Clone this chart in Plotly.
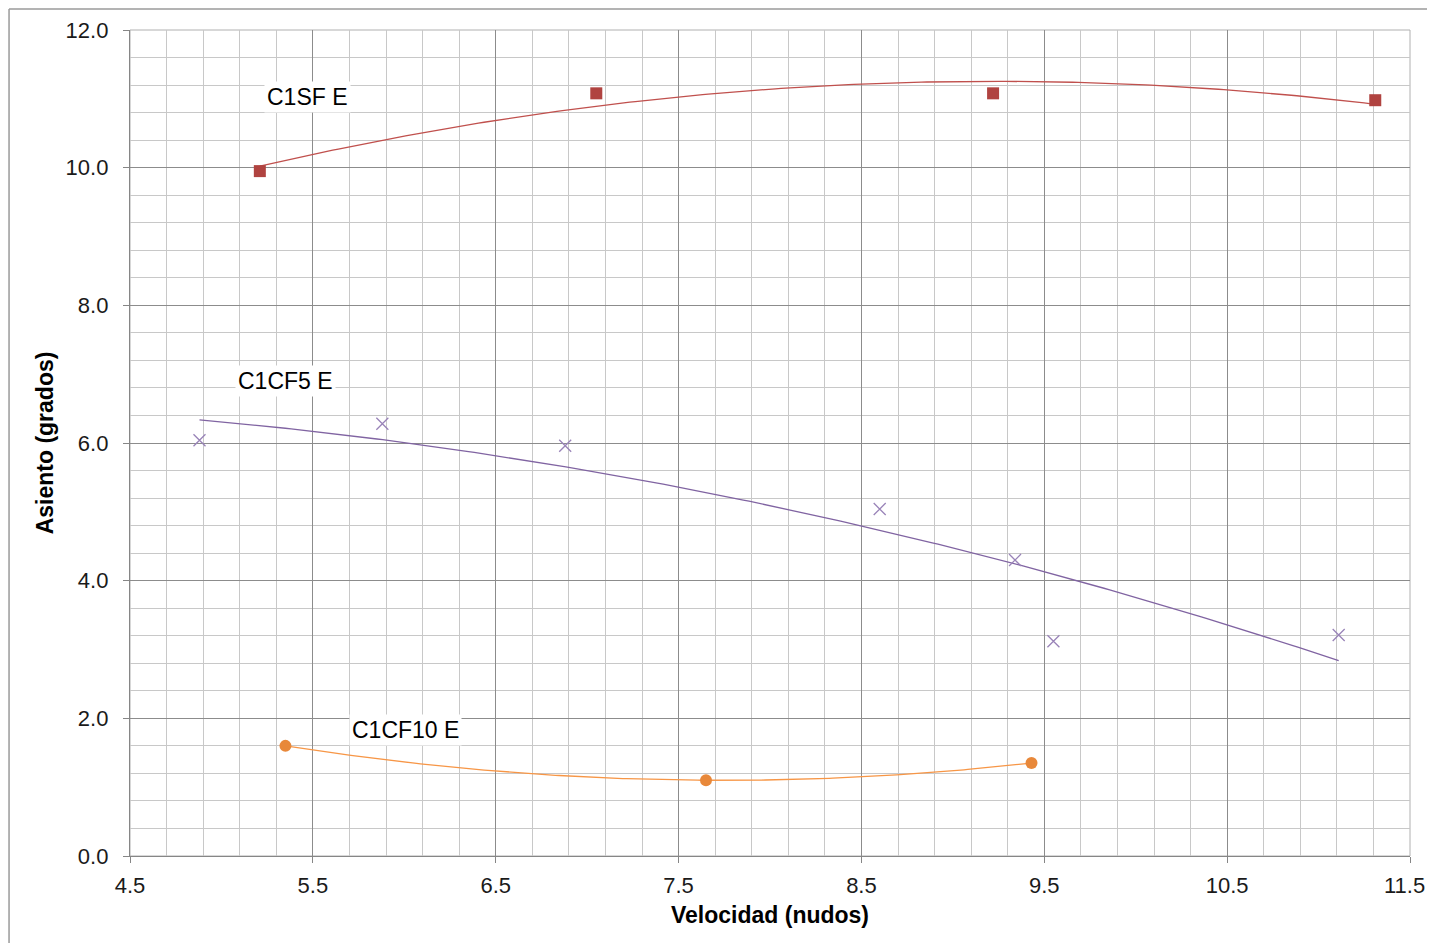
import numpy as np
import plotly.graph_objects as go

# Data
sf_x = [5.21, 7.05, 9.22, 11.31]
sf_y = [9.95, 11.08, 11.08, 10.98]

cf5_x = [4.88, 5.88, 6.88, 8.60, 9.34, 9.55, 11.11]
cf5_y = [6.04, 6.28, 5.96, 5.04, 4.30, 3.12, 3.21]

cf10_x = [5.35, 7.65, 9.43]
cf10_y = [1.60, 1.10, 1.35]

x_ticks = [4.5, 5.5, 6.5, 7.5, 8.5, 9.5, 10.5, 11.5]
y_ticks = [0.0, 2.0, 4.0, 6.0, 8.0, 10.0, 12.0]

series = [
    ("C1SF E", sf_x, sf_y, "#C0504D", dict(symbol="square", size=12, color="#B04340")),
    ("C1CF5 E", cf5_x, cf5_y, "#8064A2", dict(symbol="x-thin", size=12, line=dict(color="#9983B8", width=1.3))),
    ("C1CF10 E", cf10_x, cf10_y, "#F79646", dict(symbol="circle", size=12, color="#E8883A")),
]

FONT = "Arial, Liberation Sans, sans-serif"

fig = go.Figure()
for name, xs, ys, lc, mk in series:
    coef = np.polyfit(xs, ys, 2)
    tx = np.linspace(min(xs), max(xs), 200)
    fig.add_trace(go.Scatter(x=tx, y=np.polyval(coef, tx), mode="lines",
                             line=dict(color=lc, width=1.3), showlegend=False,
                             hoverinfo="skip"))
    fig.add_trace(go.Scatter(x=xs, y=ys, mode="markers", marker=mk, name=name,
                             showlegend=False))

labels = [("C1SF E", 5.468, 11.03), ("C1CF5 E", 5.353, 6.90), ("C1CF10 E", 6.004, 1.83)]
for txt, lx, ly in labels:
    fig.add_annotation(x=lx, y=ly, text=txt, showarrow=False, bgcolor="white",
                       font=dict(family=FONT, size=23, color="#000"),
                       borderpad=2)

# last x tick label drawn as an annotation so it stays inside the page
x_ticktext = [f"{v:.1f}" for v in x_ticks]
last_label = x_ticktext[-1]
x_ticktext[-1] = ""
fig.add_annotation(xref="paper", yref="paper", x=1 + 17 / 1280, y=0, xanchor="right",
                   yanchor="middle", yshift=-29, text=last_label, showarrow=False,
                   font=dict(family=FONT, size=22, color="#1a1a1a"))

axis_common = dict(
    showline=True, linecolor="#868686", linewidth=1.3,
    ticks="outside", ticklen=6, tickcolor="#868686",
    gridcolor="#8c8c8c", gridwidth=1, zeroline=False,
    ticklabeloverflow="allow", automargin=False,
    tickfont=dict(family=FONT, size=22, color="#1a1a1a"),
)

fig.update_layout(
    width=1419, height=935,
    margin=dict(l=122, r=17, t=22, b=87),
    plot_bgcolor="white", paper_bgcolor="white",
    xaxis=dict(range=[4.5, 11.5], tickvals=x_ticks, ticktext=x_ticktext,
               minor=dict(dtick=0.2, tick0=4.5, showgrid=True, gridcolor="#c8c8c8", gridwidth=1),
               ticklabelstandoff=3,
               title=dict(text="<b>Velocidad (nudos)</b>", standoff=10,
                          font=dict(family=FONT, size=23, color="#000")),
               **axis_common),
    yaxis=dict(range=[0, 12], tickvals=y_ticks, ticktext=[f"{v:.1f}" for v in y_ticks],
               minor=dict(dtick=0.4, tick0=0, showgrid=True, gridcolor="#c8c8c8", gridwidth=1),
               ticklabelstandoff=10,
               title=dict(text="<b>Asiento (grados)</b>", standoff=5,
                          font=dict(family=FONT, size=23, color="#000")),
               **axis_common),
    shapes=[
        dict(type="rect", xref="paper", yref="paper", x0=0, x1=1, y0=0, y1=1,
             line=dict(color="#b0b0b0", width=1), layer="below"),
        dict(type="line", xref="paper", yref="paper", x0=-0.0945, x1=1.05, y0=1.0254, y1=1.0254,
             line=dict(color="#9a9a9a", width=1.5)),
        dict(type="line", xref="paper", yref="paper", x0=-0.0945, x1=-0.0945, y0=-0.2, y1=1.0254,
             line=dict(color="#9a9a9a", width=1.5)),
    ],
)

fig.write_html("out.html")
